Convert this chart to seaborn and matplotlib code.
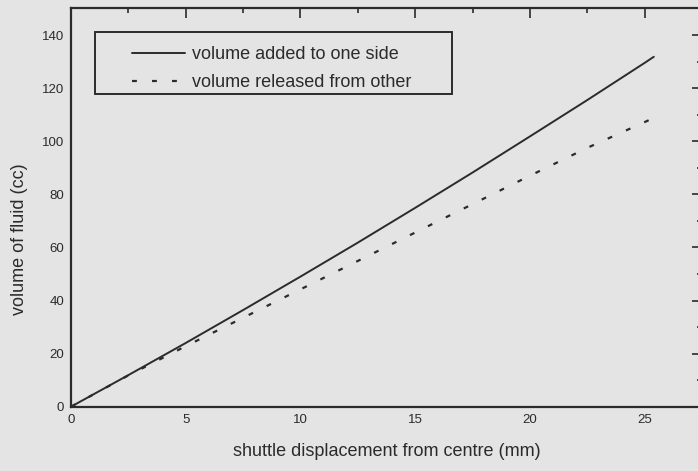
import numpy as np
import pandas as pd
import matplotlib
matplotlib.use("Agg")
import matplotlib.pyplot as plt
from matplotlib.patches import Rectangle
from matplotlib.ticker import MultipleLocator
import seaborn as sns

# values
displacement = [0, 2.5, 5, 7.5, 10, 12.5, 15, 17.5, 20, 22.5, 25, 25.4]
vol_added = [0, 11.9, 24.0, 36.4, 49.0, 61.8, 74.9, 88.2, 101.8, 115.5, 129.5, 131.8]
vol_released = [0, 11.8, 22.8, 33.5, 44.2, 54.9, 65.6, 76.3, 87.0, 97.5, 107.2, 108.8]
label_added = "volume added to one side"
label_released = "volume released from other"

df = pd.DataFrame({"x": displacement, "added": vol_added, "released": vol_released})

sns.set_style("white")
plt.rcParams['font.family'] = ['Liberation Sans', 'DejaVu Sans']

bg = '#e4e4e4'
ink = '#2b2b2b'

fig = plt.figure(figsize=(6.98, 4.71), dpi=100, facecolor=bg)
ax = fig.add_axes([0.1017, 0.1365, 0.904, 0.8455])
ax.set_facecolor(bg)

sns.lineplot(data=df, x="x", y="added", ax=ax, color=ink, lw=1.4, label=label_added)
sns.lineplot(data=df, x="x", y="released", ax=ax, color=ink, lw=1.6,
             label=label_released, dashes=False)
ax.lines[1].set_dashes((2.2, 6.8))

ax.set_xlim(0, 27.5)
ax.set_ylim(0, 150)
ax.xaxis.set_major_locator(MultipleLocator(5))
ax.xaxis.set_minor_locator(MultipleLocator(2.5))
ax.yaxis.set_major_locator(MultipleLocator(20))
ax.yaxis.set_minor_locator(MultipleLocator(10))
ax.set_yticks([0, 20, 40, 60, 80, 100, 120, 140])

ax.tick_params(which='both', direction='in', top=True, right=True, colors=ink,
               labelsize=9.5, width=1.2)
ax.tick_params(which='major', length=7, pad=5)
ax.tick_params(which='minor', length=3.5)
for s in ax.spines.values():
    s.set_linewidth(1.6)
    s.set_color(ink)

ax.set_xlabel("shuttle displacement from centre (mm)", fontsize=13, color=ink)
ax.set_ylabel("volume of fluid (cc)", fontsize=13, color=ink)
ax.yaxis.set_label_coords(-0.068, 0.421)
ax.xaxis.set_label_coords(0.5, -0.09)

# legend drawn without frame, box added separately
leg = ax.legend(loc='upper left', bbox_to_anchor=(0.0967, 0.905), frameon=False,
                fontsize=13, handlelength=2.95, handletextpad=0.4,
                labelspacing=0.6, borderaxespad=0, borderpad=0)
for t in leg.get_texts():
    t.set_color(ink)
ax.add_patch(Rectangle((0.038, 0.785), 0.566, 0.156, transform=ax.transAxes,
                       fill=False, edgecolor=ink, lw=1.4, zorder=5))

fig.savefig("out.png", dpi=100, facecolor=bg)
